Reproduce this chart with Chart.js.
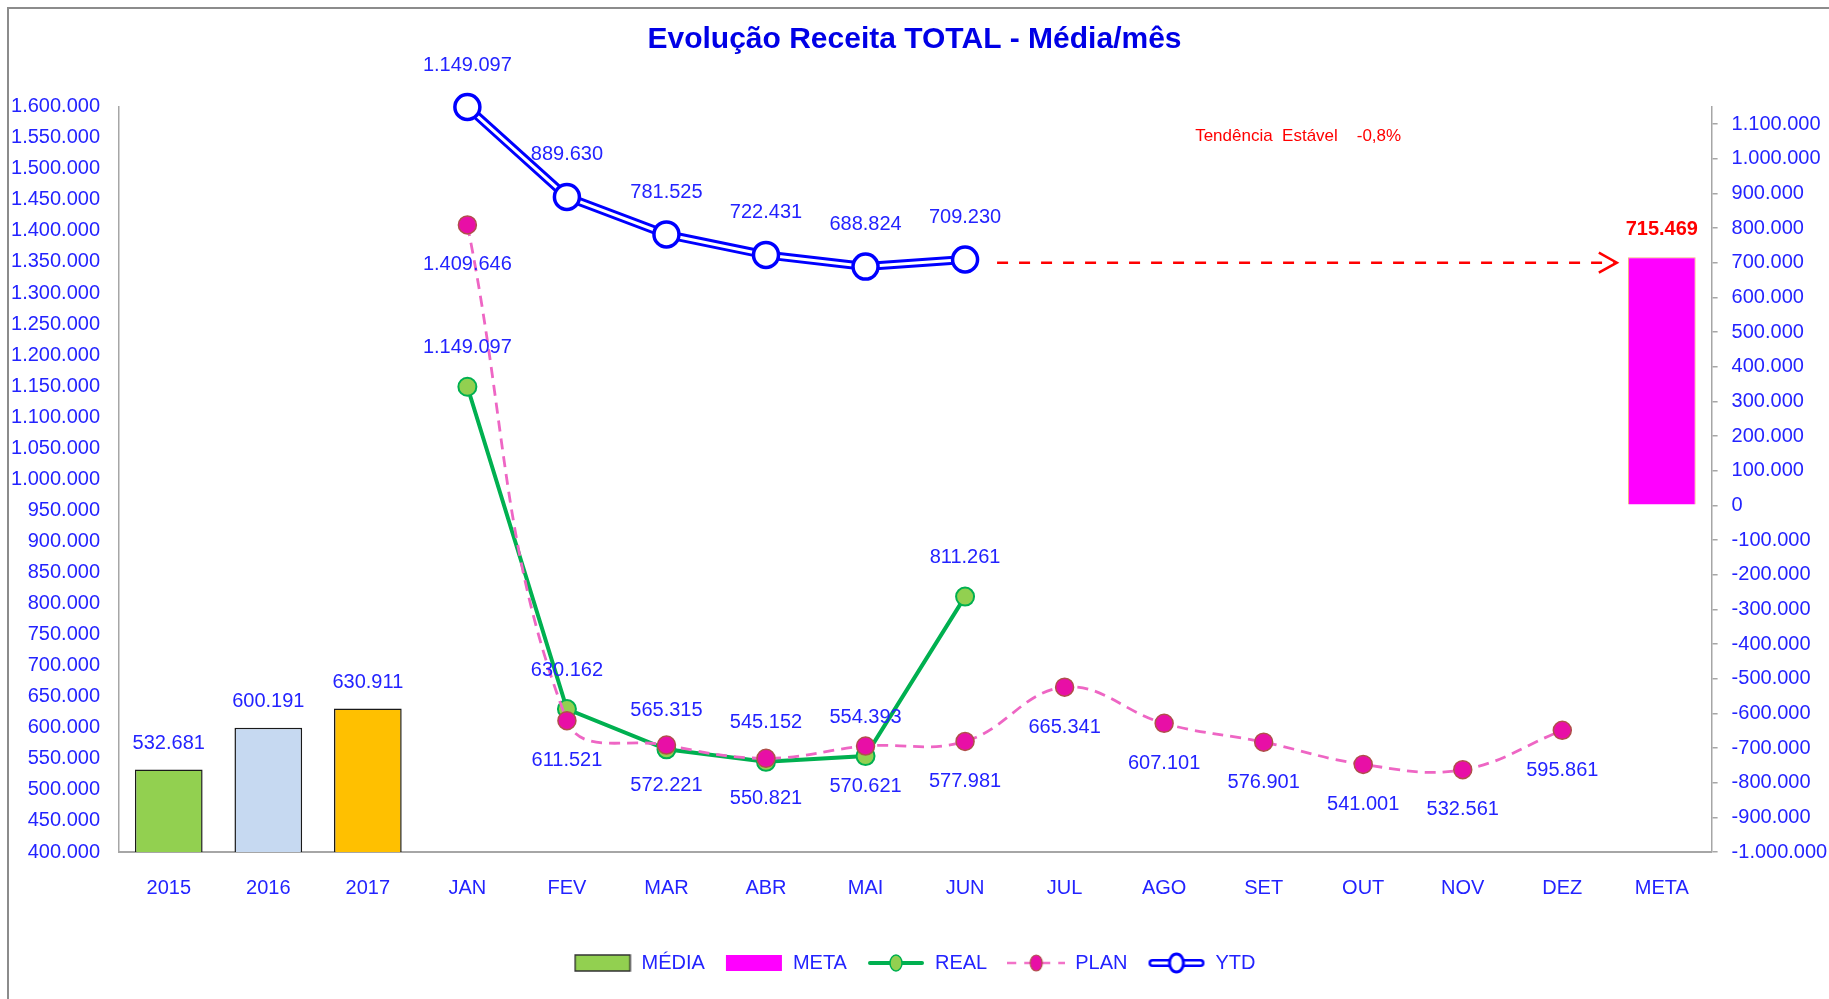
<!DOCTYPE html>
<html lang="pt-BR">
<head>
<meta charset="utf-8">
<title>Evolução Receita TOTAL - Média/mês</title>
<script src="https://cdn.jsdelivr.net/npm/chart.js@4/dist/chart.umd.min.js"></script>
<style>
    html, body { margin: 0; padding: 0; background: #fff; }
    #wrap { position: relative; width: 1829px; height: 999px; overflow: hidden; }
    #frame { position: absolute; left: 7px; top: 7px; width: 1840px; height: 1010px;
             border-top: 2px solid #8c8c8c; border-left: 2px solid #8c8c8c; pointer-events: none; }
</style>
</head>
<body>
<div id="wrap">
    <canvas id="receitaChart" width="1829" height="999"></canvas>
    <div id="frame"></div>
</div>
<script>

// DADOS
const categorias = ['2015', '2016', '2017', 'JAN', 'FEV', 'MAR', 'ABR', 'MAI', 'JUN', 'JUL', 'AGO', 'SET', 'OUT', 'NOV', 'DEZ', 'META'];
const mediaAnual = [532681, 600191, 630911, null, null, null, null, null, null, null, null, null, null, null, null, null];
const meta       = [null, null, null, null, null, null, null, null, null, null, null, null, null, null, null, 715469];
const real       = [null, null, null, 1149097, 630162, 565315, 545152, 554393, 811261, null, null, null, null, null, null, null];
const plan       = [null, null, null, 1409646, 611521, 572221, 550821, 570621, 577981, 665341, 607101, 576901, 541001, 532561, 595861, null];
const ytd        = [null, null, null, 1149097, 889630, 781525, 722431, 688824, 709230, null, null, null, null, null, null, null];

// eixos: [min, max, passo]
const eixoEsquerdo = [400000, 1600000, 50000];
const eixoDireito  = [-1000000, 1150000, 100000];
const ultimoTickDireito = 1100000;

const tendenciaTexto = 'Tendência  Estável    -0,8%';
const tendenciaNivel = 700000;

const FONTE = "'Liberation Sans', Arial, sans-serif";
const AZUL = '#2323FF';

function fmt(v) {
    const s = Math.abs(Math.round(v)).toString().replace(/\B(?=(\d{3})+(?!\d))/g, '.');
    return (v < 0 ? '-' : '') + s;
}

// icones da legenda
function icone(desenha) {
    const c = document.createElement('canvas');
    c.width = 58;
    c.height = 22;
    desenha(c.getContext('2d'), 58, 22);
    return c;
}

const iconeMedia = icone((g, w, h) => {
    g.fillStyle = '#92D050';
    g.fillRect(1.5, 3, w - 3, 16);
    g.strokeStyle = '#333';
    g.lineWidth = 1.5;
    g.strokeRect(1.5, 3, w - 3, 16);
});
const iconeMeta = icone((g, w, h) => {
    g.fillStyle = '#FF00FF';
    g.fillRect(1, 3, w - 2, 16);
});
const iconeReal = icone((g, w, h) => {
    g.strokeStyle = '#00B050';
    g.lineWidth = 4;
    g.lineCap = 'round';
    g.beginPath(); g.moveTo(3, h / 2); g.lineTo(w - 3, h / 2); g.stroke();
    g.fillStyle = '#92D050';
    g.lineWidth = 1.5;
    g.beginPath(); g.ellipse(w / 2, h / 2, 6, 8, 0, 0, Math.PI * 2); g.fill(); g.stroke();
});
const iconePlan = icone((g, w, h) => {
    g.strokeStyle = '#F272C8';
    g.lineWidth = 2.5;
    g.setLineDash([9, 8]);
    g.beginPath(); g.moveTo(0, h / 2); g.lineTo(w, h / 2); g.stroke();
    g.setLineDash([]);
    g.fillStyle = '#E80FA6';
    g.strokeStyle = '#B0504A';
    g.lineWidth = 1.2;
    g.beginPath(); g.ellipse(w / 2, h / 2, 6, 8, 0, 0, Math.PI * 2); g.fill(); g.stroke();
});
const iconeYtd = icone((g, w, h) => {
    g.strokeStyle = '#0000FF';
    g.lineWidth = 8;
    g.lineCap = 'round';
    g.beginPath(); g.moveTo(5, h / 2); g.lineTo(w - 5, h / 2); g.stroke();
    g.strokeStyle = '#FFFFFF';
    g.lineWidth = 3;
    g.beginPath(); g.moveTo(5, h / 2); g.lineTo(w - 5, h / 2); g.stroke();
    g.fillStyle = '#FFFFFF';
    g.strokeStyle = '#0000FF';
    g.lineWidth = 3;
    g.beginPath(); g.ellipse(w / 2, h / 2, 7, 9, 0, 0, Math.PI * 2); g.fill(); g.stroke();
});

const legendaItens = [
    { text: 'MÉDIA', icon: iconeMedia, ds: 0 },
    { text: 'META', icon: iconeMeta, ds: 1 },
    { text: 'REAL', icon: iconeReal, ds: 2 },
    { text: 'PLAN', icon: iconePlan, ds: 3 },
    { text: 'YTD', icon: iconeYtd, ds: 4 }
];

// rotulos de valores
const rotulos = {
    id: 'rotulos',
    afterDatasetsDraw(chart) {
        const ctx = chart.ctx;
        chart.data.datasets.forEach((ds, i) => {
            if (!ds.rotulo) return;
            const m = chart.getDatasetMeta(i);
            ctx.save();
            ctx.font = ds.rotulo.font;
            ctx.fillStyle = ds.rotulo.cor;
            ctx.textAlign = 'center';
            ctx.textBaseline = 'middle';
            m.data.forEach((el, j) => {
                const v = ds.data[j];
                if (v === null || v === undefined) return;
                ctx.fillText(fmt(v), el.x, el.y + ds.rotulo.desloc);
            });
            ctx.restore();
        });
    }
};

// seta de tendencia
const tendencia = {
    id: 'tendencia',
    afterDatasetsDraw(chart) {
        const { ctx, chartArea } = chart;
        const x = chart.scales.x, y1 = chart.scales.y1;
        const yy = y1.getPixelForValue(tendenciaNivel);
        const x0 = x.getPixelForValue(categorias.indexOf('JUN')) + 32;
        const x1 = x.getPixelForValue(categorias.indexOf('META')) - 45;
        ctx.save();
        ctx.strokeStyle = '#FF0000';
        ctx.lineWidth = 2.5;
        ctx.setLineDash([11, 11]);
        ctx.beginPath(); ctx.moveTo(x0, yy); ctx.lineTo(x1 - 3, yy); ctx.stroke();
        ctx.setLineDash([]);
        ctx.beginPath(); ctx.moveTo(x1 - 18, yy - 10); ctx.lineTo(x1, yy); ctx.lineTo(x1 - 18, yy + 10); ctx.stroke();
        ctx.font = '17px ' + FONTE;
        ctx.fillStyle = '#FF0000';
        ctx.textAlign = 'left';
        ctx.textBaseline = 'middle';
        ctx.fillText(tendenciaTexto, x.getPixelForValue(categorias.indexOf('AGO')) + 31, chartArea.top + 30);
        ctx.restore();
    }
};

const fonteRotulo = '20px ' + FONTE;

new Chart(document.getElementById('receitaChart'), {
    type: 'bar',
    data: {
        labels: categorias,
        datasets: [
            {
                label: 'MÉDIA',
                data: mediaAnual,
                yAxisID: 'y',
                backgroundColor: ['#92D050', '#C6D9F1', '#FFC000'],
                borderColor: '#1a1a1a',
                borderWidth: 1.5,
                grouped: false,
                barPercentage: 0.68,
                categoryPercentage: 1,
                order: 10,
                rotulo: { font: fonteRotulo, cor: AZUL, desloc: -26 }
            },
            {
                label: 'META',
                data: meta,
                yAxisID: 'y1',
                backgroundColor: '#FF00FF',
                borderColor: '#F8B080',
                borderWidth: 1,
                grouped: false,
                barPercentage: 0.68,
                categoryPercentage: 1,
                order: 9,
                rotulo: { font: 'bold 20px ' + FONTE, cor: '#FF0000', desloc: -28 }
            },
            {
                type: 'line',
                label: 'REAL',
                data: real,
                yAxisID: 'y',
                borderColor: '#00B050',
                borderWidth: 4,
                pointRadius: 9,
                pointBackgroundColor: '#92D050',
                pointBorderColor: '#00B050',
                pointBorderWidth: 2,
                order: 4,
                rotulo: { font: fonteRotulo, cor: AZUL, desloc: -39 }
            },
            {
                type: 'line',
                label: 'PLAN',
                data: plan,
                yAxisID: 'y',
                borderColor: '#EE66C4',
                borderWidth: 2.8,
                borderDash: [11, 7],
                tension: 0.4,
                pointRadius: 9,
                pointBackgroundColor: '#E80FA6',
                pointBorderColor: '#B0504A',
                pointBorderWidth: 1.5,
                order: 3,
                rotulo: { font: fonteRotulo, cor: AZUL, desloc: 40 }
            },
            {
                type: 'line',
                label: 'YTD',
                data: ytd,
                yAxisID: 'y1',
                showLine: false,
                clip: false,
                pointRadius: 12.5,
                pointBackgroundColor: '#FFFFFF',
                pointBorderColor: '#0000FF',
                pointBorderWidth: 3.5,
                order: 0,
                rotulo: { font: fonteRotulo, cor: AZUL, desloc: -42 }
            },
            {
                type: 'line',
                label: 'YTD linha',
                data: ytd,
                yAxisID: 'y1',
                clip: false,
                borderColor: '#0000FF',
                borderWidth: 9,
                pointRadius: 0,
                order: 2
            },
            {
                type: 'line',
                label: 'YTD interno',
                data: ytd,
                yAxisID: 'y1',
                clip: false,
                borderColor: '#FFFFFF',
                borderWidth: 3,
                pointRadius: 0,
                order: 1
            }
        ]
    },
    options: {
        responsive: false,
        animation: false,
        events: [],
        layout: { padding: { top: 0, left: 0, right: 0, bottom: 16 } },
        scales: {
            x: {
                grid: { display: false, drawTicks: false },
                border: { display: true, color: '#A6A6A6', width: 2 },
                ticks: { color: AZUL, font: { family: FONTE, size: 20 }, padding: 24, autoSkip: false, maxRotation: 0 },
                afterFit: s => { s.height = 81; }
            },
            y: {
                position: 'left',
                min: eixoEsquerdo[0],
                max: eixoEsquerdo[1],
                grid: { display: false, drawTicks: false },
                border: { display: true, color: '#A6A6A6', width: 1.5 },
                ticks: { stepSize: eixoEsquerdo[2], color: AZUL, font: { family: FONTE, size: 20 }, padding: 19, autoSkip: false, callback: v => fmt(v) },
                afterFit: s => { s.width = 119; }
            },
            y1: {
                position: 'right',
                min: eixoDireito[0],
                max: eixoDireito[1],
                grid: { display: true, drawOnChartArea: false, drawTicks: true, tickLength: 6, color: '#A6A6A6', lineWidth: 1.5 },
                border: { display: true, color: '#A6A6A6', width: 1.5 },
                ticks: { color: AZUL, font: { family: FONTE, size: 20 }, padding: 14, autoSkip: false, callback: v => fmt(v) },
                afterBuildTicks: s => {
                    const t = [];
                    for (let v = eixoDireito[0]; v <= ultimoTickDireito; v += eixoDireito[2]) t.push({ value: v });
                    s.ticks = t;
                },
                afterFit: s => { s.width = 117.4; }
            }
        },
        plugins: {
            tooltip: { enabled: false },
            title: {
                display: true,
                text: 'Evolução Receita TOTAL - Média/mês',
                color: '#0000E6',
                font: { family: FONTE, size: 30, weight: 'bold' },
                padding: { top: 22, bottom: 48.7 }
            },
            legend: {
                position: 'bottom',
                labels: {
                    usePointStyle: true,
                    pointStyleWidth: 58,
                    padding: 20,
                    color: AZUL,
                    font: { family: FONTE, size: 20 },
                    generateLabels: () => legendaItens.map(it => ({
                        text: it.text,
                        pointStyle: it.icon,
                        fillStyle: '#fff',
                        strokeStyle: '#fff',
                        lineWidth: 0,
                        hidden: false,
                        datasetIndex: it.ds,
                        fontColor: AZUL
                    }))
                }
            }
        }
    },
    plugins: [rotulos, tendencia]
});
</script>
</body>
</html>
